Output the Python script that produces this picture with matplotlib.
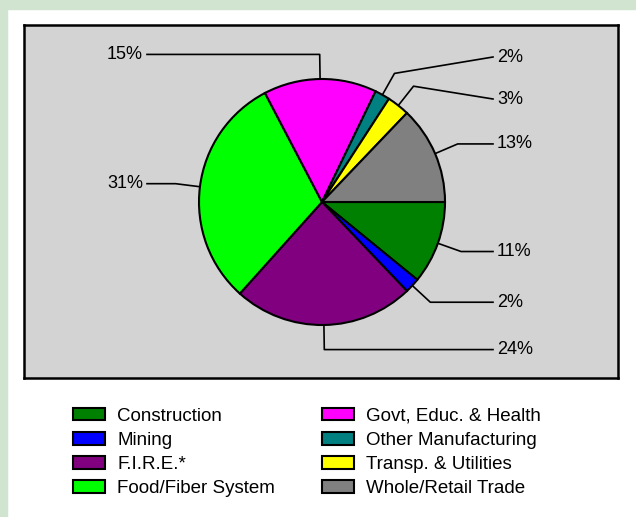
import numpy as np
import matplotlib.pyplot as plt
from matplotlib.patches import Patch, Rectangle

plt.rcParams['font.family'] = ['Liberation Sans', 'DejaVu Sans']

sectors = ['Construction', 'Mining', 'F.I.R.E.*', 'Food/Fiber System',
           'Govt, Educ. & Health', 'Other Manufacturing', 'Transp. & Utilities',
           'Whole/Retail Trade']
shares = [11, 2, 24, 31, 15, 2, 3, 13]
colors = ['#008000', '#0000ff', '#800080', '#00ff00',
          '#ff00ff', '#008080', '#ffff00', '#808080']
labels = ['11%', '2%', '24%', '31%', '15%', '2%', '3%', '13%']

# label heights in pixels from top of image; None = level with the elbow
label_py = [None, None, None, None, None, 57, 99, None]

W, H = 636, 517
fig = plt.figure(figsize=(W / 100, H / 100), dpi=100, facecolor='white')
# light green frame at top and left
fig.patches.append(Rectangle((0, 1 - 9 / H), 1, 9 / H, transform=fig.transFigure,
                             color='#d0e4d0', zorder=0))
fig.patches.append(Rectangle((0, 0), 7 / W, 1, transform=fig.transFigure,
                             color='#d0e4d0', zorder=0))

# plot area in pixels
x0, x1, y0, y1 = 24, 618, 25, 378
ax = fig.add_axes([x0 / W, 1 - y1 / H, (x1 - x0) / W, (y1 - y0) / H])
ax.set_facecolor('#d3d3d3')
aw, ah = x1 - x0, y1 - y0
cx, cy, r = 322 - x0, y1 - 202, 123

wedges, _ = ax.pie(shares, colors=colors, startangle=0, counterclock=False,
                   center=(cx, cy), radius=r, frame=True,
                   wedgeprops=dict(edgecolor='black', linewidth=1.5))
ax.set_xlim(0, aw)
ax.set_ylim(0, ah)
ax.set_aspect('equal')
ax.set_xticks([])
ax.set_yticks([])
for s in ax.spines.values():
    s.set_linewidth(1.8)

for w, lab, py in zip(wedges, labels, label_py):
    th = np.deg2rad((w.theta1 + w.theta2) / 2)
    ex, ey = cx + r * np.cos(th), cy + r * np.sin(th)
    bx, by = cx + 1.2 * r * np.cos(th), cy + 1.2 * r * np.sin(th)
    ly = by if py is None else y1 - py
    if np.cos(th) >= 0:
        lx, tx, ha = 493 - x0, 497 - x0, 'left'
    else:
        lx, tx, ha = 147 - x0, 143 - x0, 'right'
    ax.plot([ex, bx, lx], [ey, by, ly], color='black', lw=1.2, zorder=0.5)
    ax.text(tx, ly, lab, ha=ha, va='center', fontsize=13)

handles = [Patch(facecolor=c, edgecolor='black', linewidth=1.5) for c in colors]
fig.legend(handles, sectors, ncol=2, loc='center', bbox_to_anchor=(307 / W, 1 - 452.5 / H),
           frameon=False, fontsize=13.5, handlelength=1.71, handleheight=0.64,
           handletextpad=0.64, columnspacing=2.5, labelspacing=0.38, borderpad=0)

fig.savefig('out.png', dpi=100, facecolor='white')
